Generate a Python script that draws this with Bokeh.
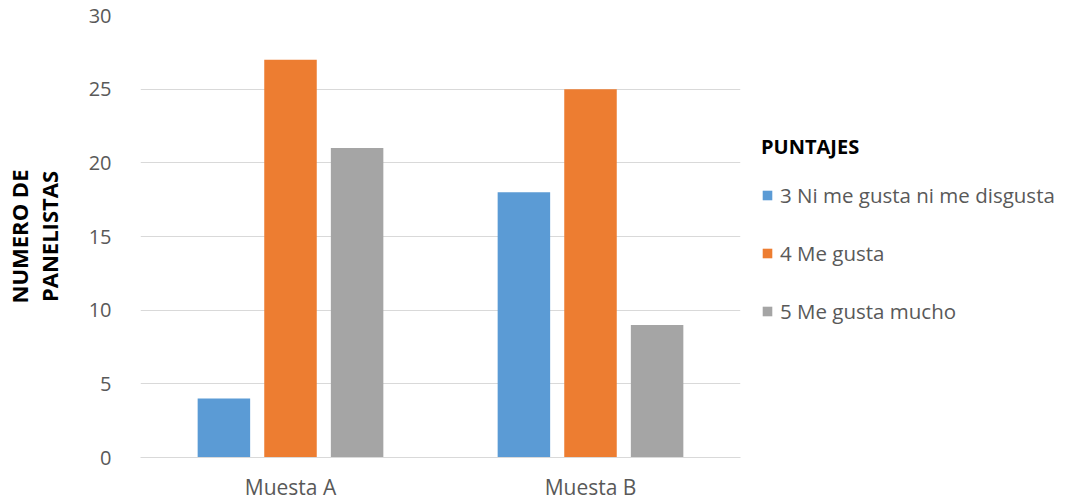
from bokeh.plotting import figure
from bokeh.models import ColumnDataSource, FactorRange, Legend, LegendItem, SingleIntervalTicker
from bokeh.transform import dodge
from bokeh.embed import file_html
from bokeh.resources import INLINE

categories = ["Muesta A", "Muesta B"]
series_names = ["3 Ni me gusta ni me disgusta", "4 Me gusta", "5 Me gusta mucho"]
s3 = [4, 18]
s4 = [27, 25]
s5 = [21, 9]
colors = ["#5B9BD5", "#ED7D31", "#A5A5A5"]

FONT = "Open Sans"

source = ColumnDataSource(dict(cat=categories, s3=s3, s4=s4, s5=s5))

p = figure(x_range=FactorRange(*categories, range_padding=0), y_range=(0, 30),
           frame_width=600, frame_height=442,
           min_border_left=140, min_border_right=326, min_border_top=15, min_border_bottom=45,
           output_backend="svg", toolbar_location=None, outline_line_color=None)

renderers = []
for key, off, col in zip(["s3", "s4", "s5"], [-0.222, 0.0, 0.222], colors):
    r = p.vbar(x=dodge("cat", off, range=p.x_range), top=key, width=0.175, source=source,
               fill_color=col, line_color=None)
    renderers.append(r)

p.yaxis.ticker = SingleIntervalTicker(interval=5)
p.yaxis.axis_line_color = None
p.yaxis.major_tick_line_color = None
p.yaxis.minor_tick_line_color = None
p.yaxis.major_label_text_font = FONT
p.yaxis.major_label_text_font_size = "20px"
p.yaxis.major_label_text_color = "#595959"
p.yaxis.major_label_standoff = 23
p.yaxis.axis_label = "NUMERO DE\nPANELISTAS"
p.yaxis.axis_label_text_font = FONT
p.yaxis.axis_label_text_font_style = "bold"
p.yaxis.axis_label_text_font_size = "22px"
p.yaxis.axis_label_text_color = "#000000"
p.yaxis.axis_label_text_line_height = 1.0
p.yaxis.axis_label_standoff = 22

p.xaxis.axis_line_color = "#D9D9D9"
p.xaxis.major_tick_line_color = None
p.xaxis.minor_tick_line_color = None
p.xaxis.major_label_text_font = FONT
p.xaxis.major_label_text_font_size = "21px"
p.xaxis.major_label_text_color = "#595959"
p.xaxis.major_label_standoff = 9

p.xgrid.grid_line_color = None
p.ygrid.grid_line_color = "#D9D9D9"
p.ygrid.grid_line_width = 1

legend = Legend(items=[LegendItem(label=n, renderers=[r]) for n, r in zip(series_names, renderers)],
                location=(21, 132), title="PUNTAJES",
                title_text_font=FONT, title_text_font_style="bold", title_text_font_size="20px",
                title_text_color="#000000", title_standoff=21,
                label_text_font=FONT, label_text_font_size="20.5px", label_text_color="#595959",
                glyph_width=12, glyph_height=12, label_standoff=7, spacing=30,
                label_height=20, padding=0, margin=0,
                border_line_color=None, background_fill_alpha=0)
p.add_layout(legend, "right")

open("out.html", "w").write(file_html(p, INLINE))
